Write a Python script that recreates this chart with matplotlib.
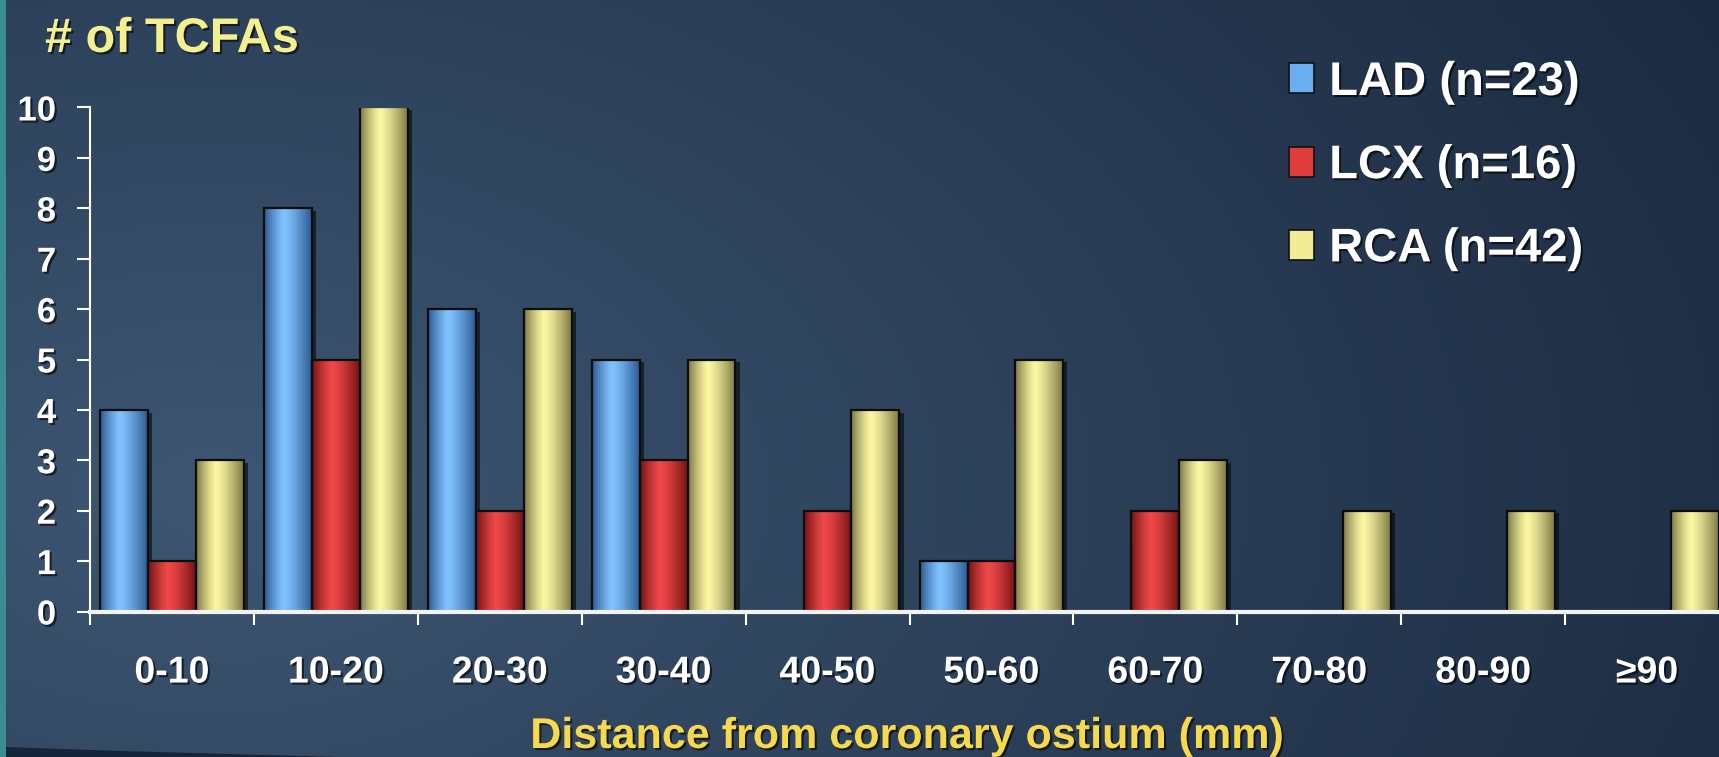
import numpy as np
import matplotlib
matplotlib.use("Agg")
import matplotlib.pyplot as plt
from matplotlib.patches import Rectangle, Polygon
from matplotlib.colors import to_rgb
import matplotlib.patheffects as pe

# ---------------- data ----------------
categories = ["0-10", "10-20", "20-30", "30-40", "40-50", "50-60", "60-70", "70-80", "80-90", "\u226590"]
lad = [4, 8, 6, 5, 0, 1, 0, 0, 0, 0]
lcx = [1, 5, 2, 3, 2, 1, 2, 0, 0, 0]
rca = [3, 10, 6, 5, 4, 5, 3, 2, 2, 2]
series_labels = ["LAD (n=23)", "LCX (n=16)", "RCA (n=42)"]
y_ticks = list(range(0, 11))
title_text = "# of TCFAs"
xlabel_text = "Distance from coronary ostium (mm)"

# ---------------- style ----------------
W, H, DPI = 1719, 757, 100
plt.rcParams['font.family'] = ['Liberation Sans', 'DejaVu Sans']
plt.rcParams['font.weight'] = 'bold'

edge_cols = ['#2c5a92', '#741313', '#7e7946']
center_cols = ['#80c2ff', '#ef4848', '#fcf7a2']
legend_cols = ['#6aaef0', '#e03c3c', '#f2ec96']

fig = plt.figure(figsize=(W / DPI, H / DPI), dpi=DPI)

# background gradient
bg = fig.add_axes([0, 0, 1, 1], zorder=-10)
bg.set_axis_off()
nx, ny = 400, 200
xx, yy = np.meshgrid(np.linspace(0, 1, nx), np.linspace(0, 1, ny))
dx = xx - 0.12
dy = (yy - 0.35) / 1.4
t = np.clip(np.sqrt(dx ** 2 + dy ** 2), 0, 1) ** 0.95
light = np.array(to_rgb('#3e5773'))
dark = np.array(to_rgb('#1b2a40'))
img = light[None, None, :] * (1 - t[..., None]) + dark[None, None, :] * t[..., None]
bg.imshow(img, extent=[0, 1, 0, 1], origin='lower', aspect='auto')
bg.set_xlim(0, 1)
bg.set_ylim(0, 1)
# teal strip on the left
bg.add_patch(Rectangle((0, 0), 6 / W, 1, color='#3b8d92', lw=0))
# dark swoosh at bottom-left
bg.add_patch(Polygon([(6 / W, 0), (6 / W, 10 / H), (120 / W, 6 / H), (340 / W, 0)],
                     closed=True, color='#17253a', lw=0))

# main axes
ax = fig.add_axes([90 / W, 145.5 / H, 1639 / W, 504 / H])
ax.set_facecolor('none')

x = np.arange(len(categories)) + 0.5
bw = 0.292
offsets = [-bw, 0, bw]
shadow = [pe.SimplePatchShadow(offset=(3, -2), shadow_rgbFace='black', alpha=0.55), pe.Normal()]

for vals, off, ec, cc in zip([lad, lcx, rca], offsets, edge_cols, center_cols):
    bars = ax.bar(x + off, vals, width=bw, color=cc, edgecolor='none', zorder=2)
    tt = np.linspace(0, 1, 64)
    f = np.where(tt < 0.42, 1 - np.abs((tt - 0.42) / 0.42) ** 1.3, 1 - np.abs((tt - 0.42) / 0.58) ** 1.3)
    e = np.array(to_rgb(ec)); c = np.array(to_rgb(cc))
    grad = (e[None, :] * (1 - f[:, None]) + c[None, :] * f[:, None])[None, :, :]
    for rect in bars:
        h = rect.get_height()
        if h <= 0:
            continue
        rect.set_path_effects(shadow)
        x0, w = rect.get_x(), rect.get_width()
        im = ax.imshow(grad, extent=[x0, x0 + w, 0, h], aspect='auto', zorder=2.1,
                       interpolation='bilinear')
        im.set_clip_path(rect)
    outline_vals = [v if v > 0 else np.nan for v in vals]
    ax.bar(x + off, outline_vals, width=bw, fill=False, edgecolor='#0d0d0d', linewidth=1.6, zorder=3)

ax.set_xlim(0, len(categories))
ax.set_ylim(0, 10)

# axes styling
for s in ['top', 'right']:
    ax.spines[s].set_visible(False)
ax.spines['left'].set_color('white')
ax.spines['left'].set_linewidth(1.5)
ax.spines['bottom'].set_color('#f2f2f2')
ax.spines['bottom'].set_linewidth(3.0)
ax.spines['bottom'].set_zorder(4)

ax.set_yticks(y_ticks)
ax.set_yticklabels([str(v) for v in y_ticks])
ax.tick_params(axis='y', direction='out', length=9.4, width=1.5, color='white',
               labelcolor='white', labelsize=25, pad=15)
ax.set_xticks(np.arange(len(categories) + 1))
ax.set_xticklabels([])
ax.set_xticks(x, minor=True)
ax.set_xticklabels(categories, minor=True)
ax.tick_params(axis='x', which='major', direction='out', length=9, width=1.5, color='white')
ax.tick_params(axis='x', which='minor', length=0, labelcolor='white', labelsize=27, pad=31)

txt_shadow = [pe.withSimplePatchShadow(offset=(1.5, -1.5), shadow_rgbFace='black', alpha=0.6)]
for lab in ax.get_yticklabels() + ax.get_xticklabels(minor=True):
    lab.set_fontweight('bold')
    lab.set_path_effects(txt_shadow)

# title and x label
fig.text(45 / W, 1 - 52 / H, title_text, color='#f4ef8f', fontsize=35, fontweight='bold',
         ha='left', va='baseline', path_effects=txt_shadow)
fig.text(906 / W, 1 - 748 / H, xlabel_text, color='#f7d94c', fontsize=31, fontweight='bold',
         ha='center', va='baseline', path_effects=txt_shadow)

# legend
handles = [Rectangle((0, 0), 1, 1, facecolor=cc, edgecolor='#111111', linewidth=1.2) for cc in legend_cols]
leg = fig.legend(handles, series_labels, loc='upper left', bbox_to_anchor=(1289 / W, 1 - 61 / H),
                 frameon=False, handlelength=0.53, handleheight=0.6,
                 handletextpad=0.32, labelspacing=0.83, borderpad=0, borderaxespad=0,
                 prop={'weight': 'bold', 'size': 34})
for t_ in leg.get_texts():
    t_.set_color('white')
    t_.set_path_effects(txt_shadow)

fig.savefig('out.png', dpi=DPI)
